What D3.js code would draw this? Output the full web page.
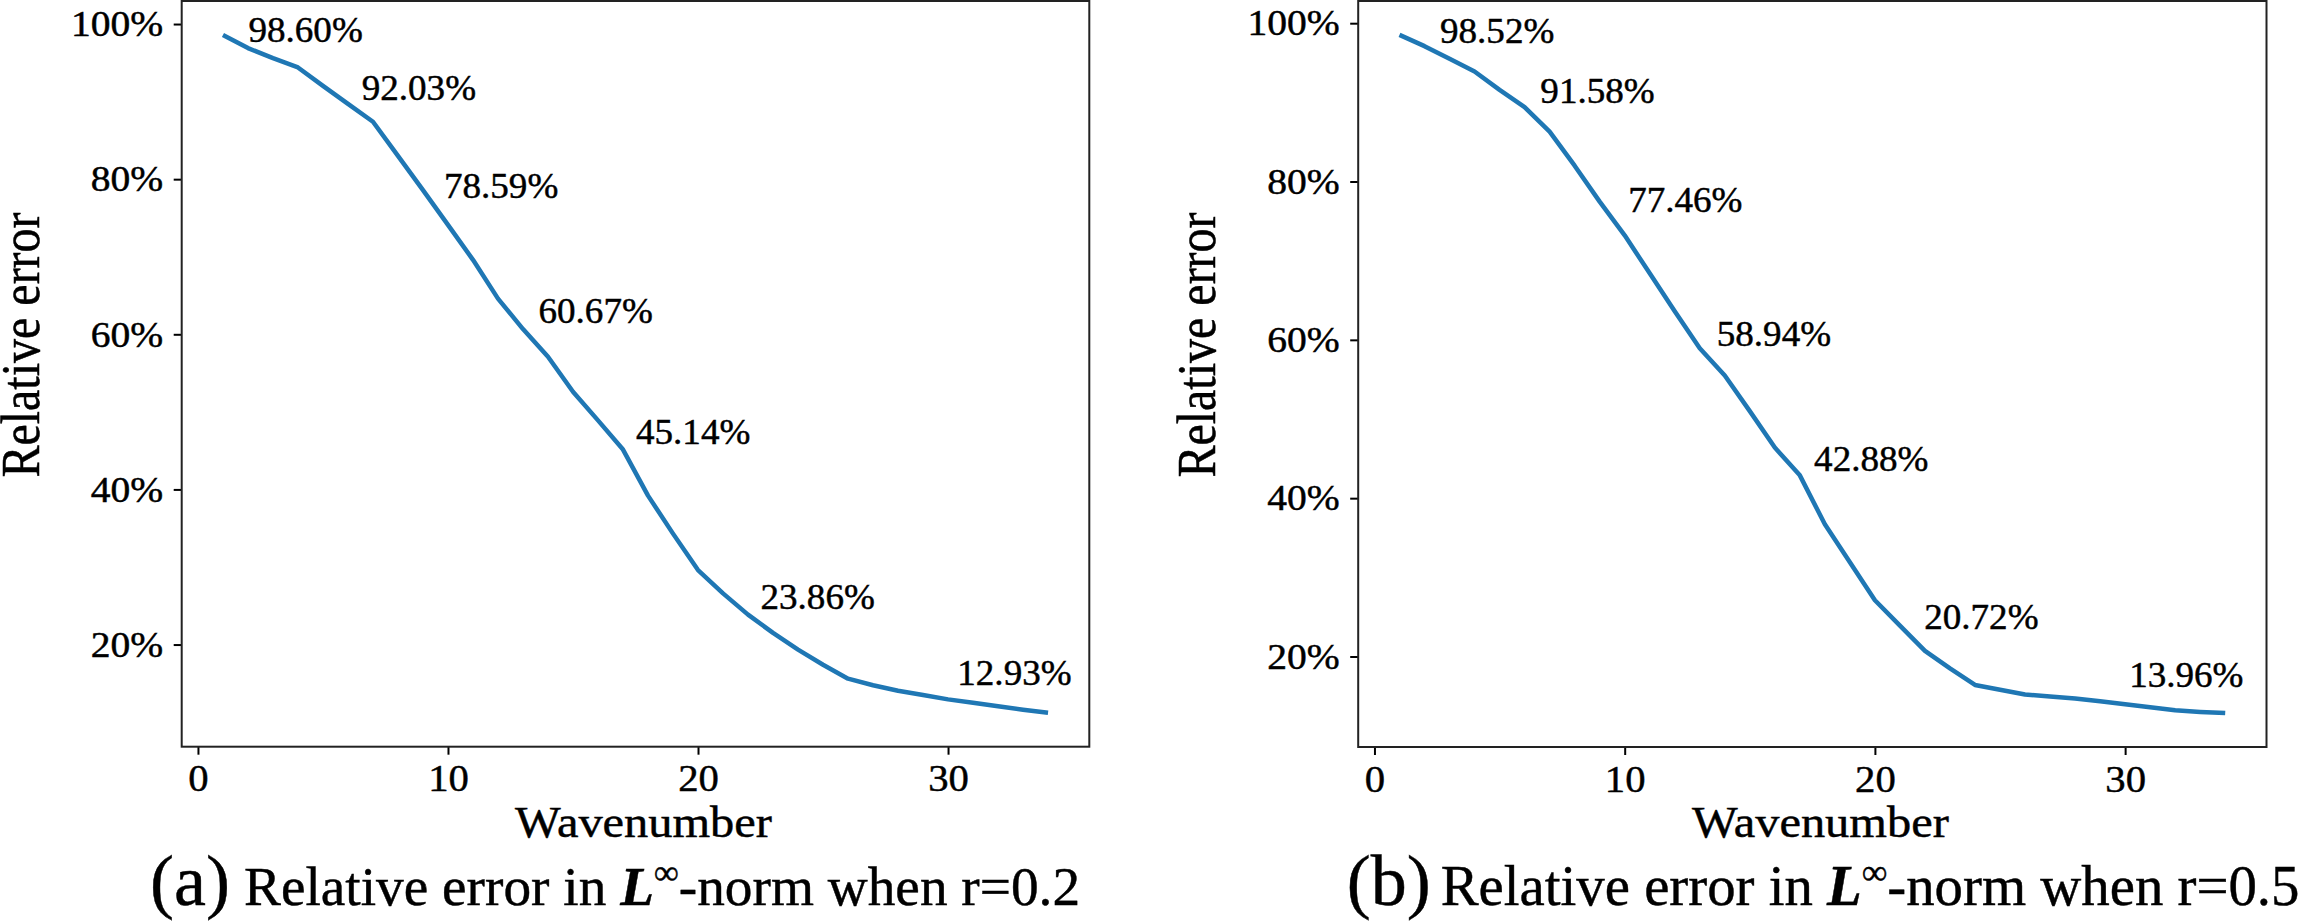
<!DOCTYPE html>
<html>
<head>
<meta charset="utf-8">
<script src="https://cdn.jsdelivr.net/npm/d3@7"></script>
<style>
body{margin:0;background:#fff}
text{font-family:"Liberation Serif","Times New Roman",serif;fill:#000}
.heavy{stroke:#000;stroke-width:0.45px}
</style>
</head>
<body>
<svg id="chart" width="2300" height="923"></svg>
<script>
// wavenumbers on the x axis
const wavenumbers = [1,2,3,4,5,6,7,8,9,10,11,12,13,14,15,16,17,18,19,20,21,22,23,24,25,26,27,28,29,30,31,32,33,34];

// relative error (%) in L-infinity norm, r=0.2 and r=0.5
const errR02 = [98.60,96.9,95.6,94.4,92.03,89.7,87.4,83.0,78.59,74.1,69.6,64.6,60.67,57.1,52.6,48.9,45.14,39.2,34.3,29.6,26.6,23.86,21.5,19.35,17.4,15.6,14.75,14.05,13.5,12.93,12.5,12.05,11.6,11.2];
const errR05 = [98.52,97.1,95.5,93.9,91.58,89.4,86.3,82.0,77.46,73.2,68.4,63.6,58.94,55.5,51.0,46.4,42.88,36.7,31.9,27.1,23.9,20.72,18.5,16.4,15.8,15.2,14.95,14.7,14.35,13.96,13.6,13.2,13.0,12.85];

// points that carry a value label
const labelledWn = [1,5,9,13,17,22,30];
// where each label text sits (wavenumber, %) - left edge / baseline
const labelAnchorA = [[2.02,97.72],[6.55,90.2],[9.84,77.52],[13.62,61.48],[17.52,45.92],[22.5,24.64],[30.37,14.75]];
const labelAnchorB = [[2.62,97.47],[6.63,89.89],[10.14,76.11],[13.68,59.27],[17.57,43.47],[21.97,23.46],[30.16,16.17]];

const yTicks = [20,40,60,80,100];
const xTicks = [0,10,20,30];
const xTitle = "Wavenumber";
const yTitle = "Relative error";
const captionTag = ["(a)","(b)"];
const captionR = ["r=0.2","r=0.5"];

const svg = d3.select("#chart");
const lineColor = "#1f77b4";

// the plots in the source are stretched sideways, text too
const sxTick = 1.13, sxXTick = 1.1, sxAnn = 1.06, sxTitle = 1.1, sxYTitle = 1.15;

function padded(ext){
    let r = ext[1]-ext[0];
    return [ext[0]-0.05*r, ext[1]+0.05*r];
}

function drawPanel(box, values, anchors, idx){
    let x = d3.scaleLinear().domain(padded(d3.extent(wavenumbers))).range([box.left, box.right]);
    let y = d3.scaleLinear().domain(padded(d3.extent(values))).range([box.bottom, box.top]);

    let g = svg.append("g");

    // y axis
    let ya = g.append("g")
        .attr("transform","translate("+box.left+",0)")
        .call(d3.axisLeft(y).tickValues(yTicks).tickSize(8).tickFormat(d => d+"%"))
        .attr("font-size",null).attr("font-family",null)
        .style("color","#000");
    ya.select(".domain").remove();
    ya.selectAll("line").attr("stroke-width",2);
    ya.selectAll("text")
        .attr("x",null).attr("dy",null)
        .attr("class","heavy")
        .attr("text-anchor","end")
        .style("font-size","35px")
        .attr("transform","translate(-18.4,11.8) scale("+sxTick+",1)");

    // x axis
    let xa = g.append("g")
        .attr("transform","translate(0,"+box.bottom+")")
        .call(d3.axisBottom(x).tickValues(xTicks).tickSize(8))
        .attr("font-size",null).attr("font-family",null)
        .style("color","#000");
    xa.select(".domain").remove();
    xa.selectAll("line").attr("stroke-width",2);
    xa.selectAll("text")
        .attr("y",null).attr("dy",null)
        .attr("class","heavy")
        .attr("text-anchor","middle")
        .style("font-size","37px")
        .attr("transform","translate(0,44.5) scale("+sxXTick+",1)");

    // frame
    g.append("rect")
        .attr("x",box.left).attr("y",box.top)
        .attr("width",box.right-box.left).attr("height",box.bottom-box.top)
        .attr("fill","none").attr("stroke","#222").attr("stroke-width",2);

    // curve
    let line = d3.line()
        .x(function(d,i){ return x(wavenumbers[i]); })
        .y(function(d){ return y(d); });
    g.append("path")
        .datum(values)
        .attr("d",line)
        .attr("fill","none")
        .attr("stroke",lineColor)
        .attr("stroke-width",4.5)
        .attr("stroke-linejoin","round");

    // value labels
    g.selectAll(".ann")
        .data(labelledWn)
        .enter()
        .append("text")
        .attr("class","ann heavy")
        .style("font-size","35px")
        .attr("transform",function(d,i){
            return "translate("+x(anchors[i][0])+","+y(anchors[i][1])+") scale("+sxAnn+",1)";
        })
        .text(function(d){
            let v = values[wavenumbers.indexOf(d)];
            return v.toFixed(2)+"%";
        });

    // axis titles
    g.append("text")
        .attr("class","heavy")
        .attr("text-anchor","middle")
        .style("font-size","44px")
        .attr("transform","translate("+((box.left+box.right)/2+8)+",836.7) scale("+sxTitle+",1)")
        .text(xTitle);

    g.append("text")
        .attr("class","heavy")
        .attr("text-anchor","middle")
        .style("font-size","48px")
        .attr("transform","translate("+(box.left-143)+",345) scale("+sxYTitle+",1) rotate(-90)")
        .text(yTitle);

    // caption under the panel
    let fs = box.capSize+"px";
    let cap = svg.append("text").attr("class","heavy").attr("y",905);
    cap.append("tspan").attr("x",box.capX).style("font-size","72px").text(captionTag[idx]);
    cap.append("tspan").attr("x",box.capX+94).style("font-size",fs).text("Relative error in ");
    cap.append("tspan").style("font-size",fs).style("font-weight","bold").style("font-style","italic").text("L");
    cap.append("tspan").style("font-size",(box.capSize*0.63)+"px").attr("dy",-21).text("∞");
    cap.append("tspan").style("font-size",fs).attr("dy",21).text("-norm when "+captionR[idx]);
}

drawPanel({left:181.7, right:1089.3, top:1, bottom:746.7, capX:150, capSize:55.3}, errR02, labelAnchorA, 0);
drawPanel({left:1358.2, right:2266.5, top:1, bottom:747, capX:1346.7, capSize:56.8}, errR05, labelAnchorB, 1);
</script>
</body>
</html>
